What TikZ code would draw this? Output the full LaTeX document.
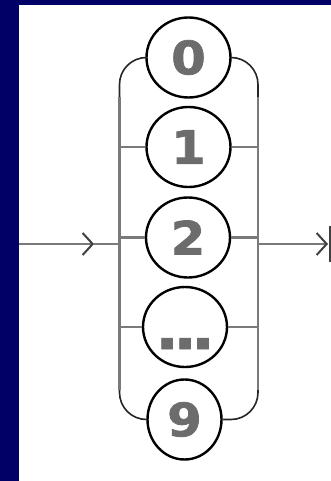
\documentclass[tikz,border=0pt]{standalone}
\usepackage{fontspec}
\newfontfamily\digitfont{DejaVu Sans}[FakeStretch=1.08,FakeBold=1.6]
\usetikzlibrary{arrows.meta,shapes.geometric}
\definecolor{navy}{RGB}{0,0,102}
\definecolor{railgray}{RGB}{122,122,122}
\definecolor{digitgray}{RGB}{108,108,108}
\tikzset{
  rail/.style = {draw=railgray, line width=2.5pt},
  railend/.style = {draw=black!85, line width=1.6pt, rounded corners=27pt},
  choice/.style = {ellipse, draw=black, line width=2.4pt, fill=white,
    inner sep=0pt, minimum width=84pt, minimum height=80pt, text=digitgray,
    font=\digitfont\bfseries\fontsize{46pt}{46pt}\selectfont},
  barb/.style = {-{Straight Barb[length=10pt,width=22pt,line width=2pt,color=black!75]}}
}

\begin{document}
\begin{tikzpicture}[x=1pt,y=-1pt]
  % frame
  \fill[navy] (0,0) rectangle (331,481);
  \fill[white] (19,5) rectangle (331,481);
  \useasboundingbox (0,0) rectangle (331,481);
  % digits
  \node[choice] (d0) at (188.5,57.5) {0};
  \node[choice] (d1) at (188.5,147) {1};
  \node[choice] (d2) at (188,237.5) {2};
  \node[choice, text height=0pt, text depth=0pt] (dd) at (185,327)
    {\makebox[0pt]{\fontsize{56pt}{56pt}\selectfont\raisebox{-22pt}{.\kern-5pt.\kern-5pt.}}};
  \node[choice, minimum width=74pt] (d9) at (184.5,419.5) {9};
  % rails
  \coordinate (lrail) at (119.5,244);
  \coordinate (rrail) at (258,244);
  \coordinate (ltop) at (119.5,97);
  \coordinate (lbot) at (119.5,390);
  \coordinate (rtop) at (258,97);
  \coordinate (rbot) at (258,390);
  \draw[railend] (d0.west) -| (lrail) |- (d9.west);
  \draw[railend] (d0.east) -| (rrail) |- (d9.east);
  \draw[rail] (ltop) -- (lbot);
  \draw[rail] (rtop) -- (rbot);
  \foreach \n in {d1,d2,dd} {
    \draw[rail] (\n.west) -- (\n.west -| lrail);
    \draw[rail] (\n.east) -- (\n.east -| rrail);
  }
  % in and out
  \coordinate (entry) at (19,244);
  \coordinate (inarrow) at (94,244);
  \coordinate (outarrow) at (328,244);
  \coordinate (stop) at (329.5,244);
  \draw[rail, barb] (entry) -- (inarrow);
  \draw[rail] (inarrow) -- (lrail);
  \draw[rail, barb] (rrail) -- (outarrow);
  \draw[black!75, line width=2pt] (stop) ++(0,-18) -- ++(0,36);
\end{tikzpicture}
\end{document}
